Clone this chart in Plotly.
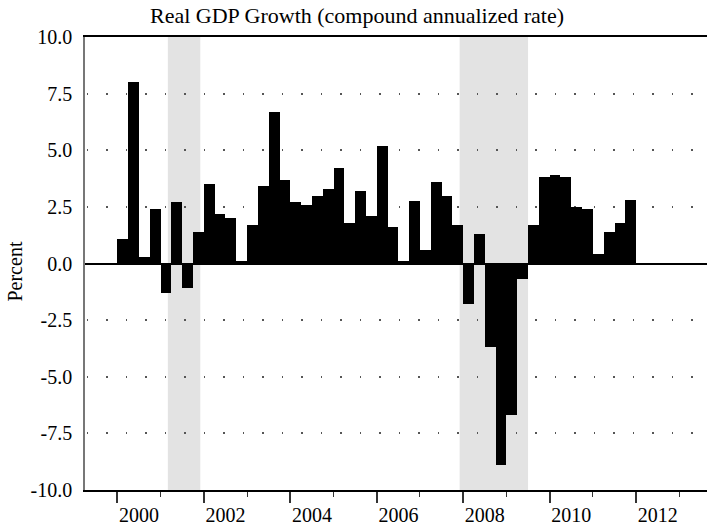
import plotly.graph_objects as go

# Quarterly real GDP growth, compound annualized rate (%), 2000Q1 - 2011Q4
start_year = 2000
growth = [
    1.1, 8.0, 0.3, 2.4,     # 2000
    -1.3, 2.7, -1.1, 1.4,   # 2001
    3.5, 2.2, 2.0, 0.1,     # 2002
    1.7, 3.4, 6.7, 3.7,     # 2003
    2.7, 2.6, 3.0, 3.3,     # 2004
    4.2, 1.8, 3.2, 2.1,     # 2005
    5.2, 1.6, 0.1, 2.75,    # 2006
    0.6, 3.6, 3.0, 1.7,     # 2007
    -1.8, 1.3, -3.7, -8.9,  # 2008
    -6.7, -0.7, 1.7, 3.8,   # 2009
    3.9, 3.8, 2.5, 2.4,     # 2010
    0.4, 1.4, 1.8, 2.8,     # 2011
]
# Recession periods (fractional years): Mar-Nov 2001, Dec 2007-Jun 2009
recessions = [(2001.167, 2001.917), (2007.917, 2009.5)]
major_years = [2000, 2002, 2004, 2006, 2008, 2010, 2012]
minor_years = [2001, 2003, 2005, 2007, 2009, 2011, 2013]
label_years = ["2000", "2002", "2004", "2006", "2008", "2010", "2012"]
y_ticks = [-10, -7.5, -5, -2.5, 0, 2.5, 5, 7.5, 10]
y_ticktext = ["-10.0", "-7.5", "-5.0", "-2.5", "0.0", "2.5", "5.0", "7.5", "10.0"]

x_center = [start_year + 0.25 * i + 0.125 for i in range(len(growth))]
xrange = [1999.25, 2013.64]

FONT = "Liberation Serif"

fig = go.Figure()
fig.add_trace(go.Bar(
    x=x_center, y=growth, width=0.25,
    marker=dict(color="black", line=dict(width=0)),
    xaxis="x", yaxis="y", showlegend=False,
))
# invisible trace on overlay axis carrying the year labels
fig.add_trace(go.Scatter(x=[2000.5], y=[0], xaxis="x2", yaxis="y",
                         mode="markers", marker=dict(opacity=0),
                         showlegend=False, hoverinfo="skip"))

for a, b in recessions:
    fig.add_shape(type="rect", xref="x", yref="paper", x0=a, x1=b, y0=0, y1=1,
                  fillcolor="#e3e3e3", line=dict(width=0), layer="below")

fig.add_annotation(text="Percent", textangle=-90, xref="paper", yref="paper",
                   x=-0.112, y=0.483, xanchor="center", yanchor="middle",
                   showarrow=False, font=dict(family=FONT, size=20, color="black"))

fig.update_layout(
    width=707, height=529,
    margin=dict(l=85, r=0, t=37, b=39, pad=0, autoexpand=False),
    paper_bgcolor="white", plot_bgcolor="white",
    bargap=0,
    font=dict(family=FONT, size=20, color="black"),
    title=dict(text="Real GDP Growth (compound annualized rate)",
               x=0.505, xref="container", xanchor="center",
               y=0.971, yref="container", yanchor="middle",
               font=dict(family=FONT, size=22, color="black")),
    xaxis=dict(
        range=xrange, showgrid=False, zeroline=False,
        showline=True, mirror=True, linecolor="black", linewidth=1.5,
        tickmode="array", tickvals=major_years, showticklabels=False,
        ticks="outside", ticklen=11, tickcolor="#333", tickwidth=1.5,
        minor=dict(tickmode="array", tickvals=minor_years, ticks="outside",
                   ticklen=5, tickcolor="#333", tickwidth=1, showgrid=False),
    ),
    xaxis2=dict(
        range=xrange, overlaying="x", anchor="y", side="bottom",
        showgrid=False, zeroline=False, showline=False,
        tickmode="array", tickvals=[y + 0.5 for y in major_years],
        ticktext=label_years, ticks="", ticklabelstandoff=11,
        tickfont=dict(family=FONT, size=20, color="black"),
    ),
    yaxis=dict(
        range=[-10, 10], tickmode="array", tickvals=y_ticks, ticktext=y_ticktext,
        showline=True, linecolor="#777", linewidth=1.5,
        showgrid=True, gridcolor="#555", gridwidth=1.5,
        griddash="0px,1.5px,1.5px,16.5px",
        zeroline=True, zerolinecolor="black", zerolinewidth=1.5,
        ticks="", ticklabelstandoff=7,
        tickfont=dict(family=FONT, size=20, color="black"),
    ),
)

fig.write_html("out.html", config={"displayModeBar": False},
               post_script="document.body.style.margin='0';")
